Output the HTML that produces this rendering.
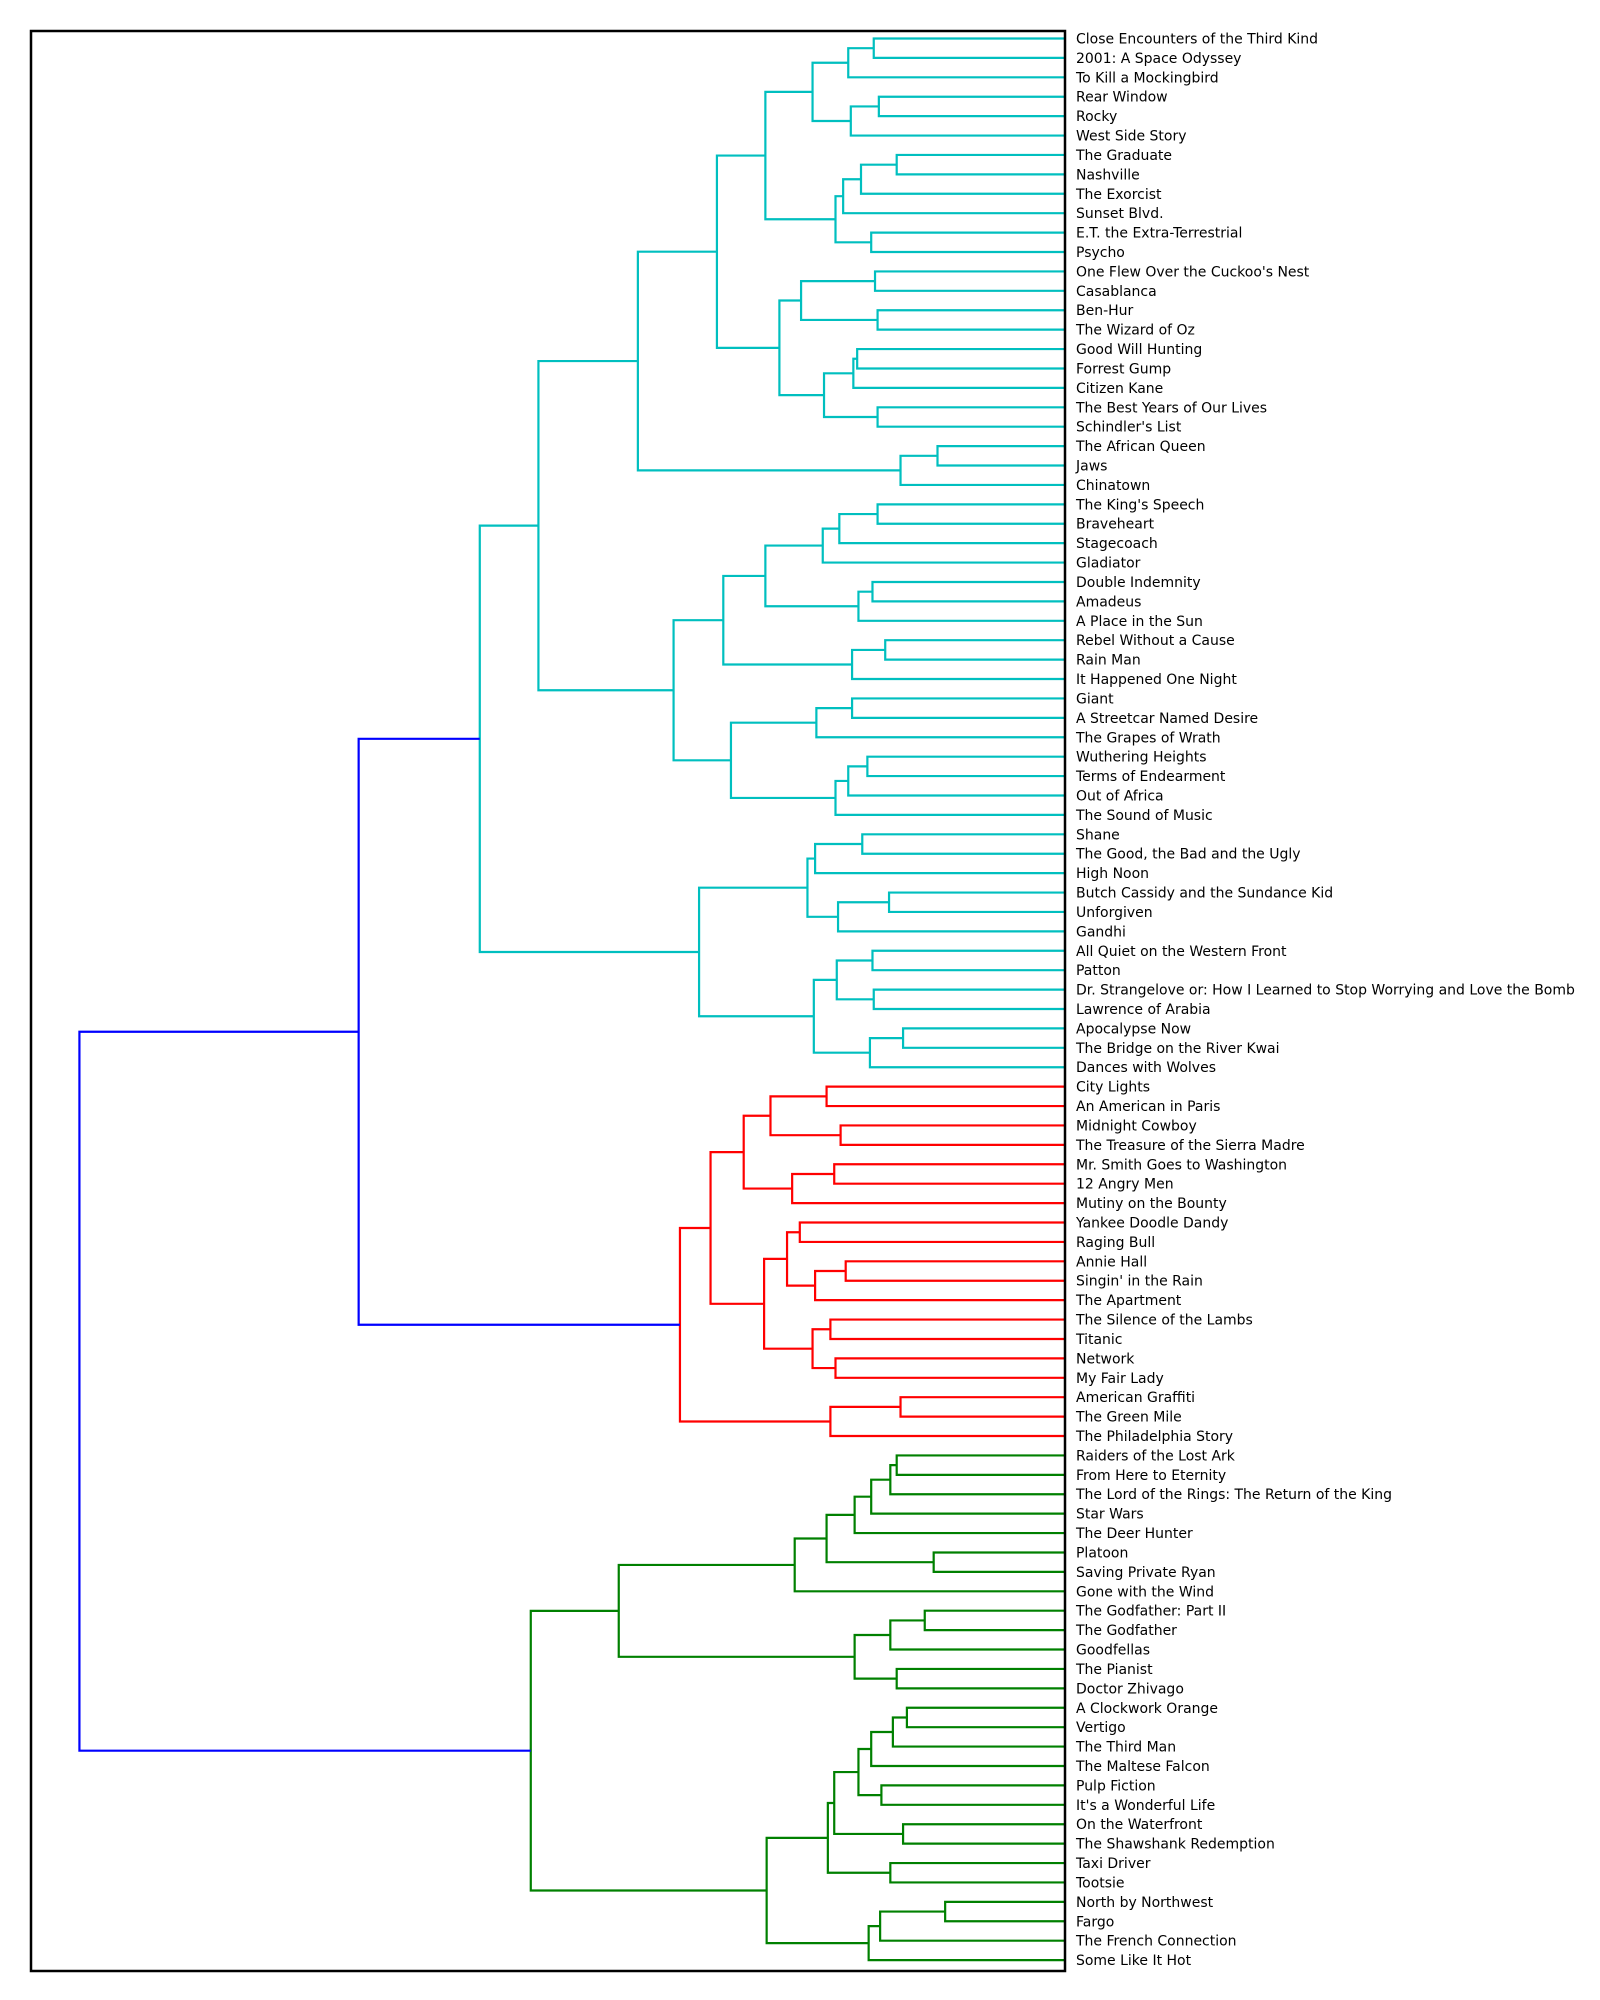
<!DOCTYPE html>
<html><head><meta charset="utf-8"><style>
html,body{margin:0;padding:0;background:#fff;}
svg{display:block;}
text{font-family:"DejaVu Sans","Liberation Sans",sans-serif;font-size:14px;fill:#000;}
</style></head><body>
<svg id="chartSvg" width="1600" height="2000" viewBox="0 0 1600 2000">
<rect x="0" y="0" width="1600" height="2000" fill="#fff"/>
<g id="linkGroup"></g>
<g id="labelGroup" transform="translate(1076,43.5) scale(1,0.99743)">
<text y="0">Close Encounters of the Third Kind</text>
<text y="19.46">2001: A Space Odyssey</text>
<text y="38.92">To Kill a Mockingbird</text>
<text y="58.38">Rear Window</text>
<text y="77.84">Rocky</text>
<text y="97.3">West Side Story</text>
<text y="116.76">The Graduate</text>
<text y="136.22">Nashville</text>
<text y="155.68">The Exorcist</text>
<text y="175.14">Sunset Blvd.</text>
<text y="194.6">E.T. the Extra-Terrestrial</text>
<text y="214.06">Psycho</text>
<text y="233.52">One Flew Over the Cuckoo's Nest</text>
<text y="252.98">Casablanca</text>
<text y="272.44">Ben-Hur</text>
<text y="291.9">The Wizard of Oz</text>
<text y="311.36">Good Will Hunting</text>
<text y="330.82">Forrest Gump</text>
<text y="350.28">Citizen Kane</text>
<text y="369.74">The Best Years of Our Lives</text>
<text y="389.2">Schindler's List</text>
<text y="408.66">The African Queen</text>
<text y="428.12">Jaws</text>
<text y="447.58">Chinatown</text>
<text y="467.04">The King's Speech</text>
<text y="486.5">Braveheart</text>
<text y="505.96">Stagecoach</text>
<text y="525.42">Gladiator</text>
<text y="544.88">Double Indemnity</text>
<text y="564.34">Amadeus</text>
<text y="583.8">A Place in the Sun</text>
<text y="603.26">Rebel Without a Cause</text>
<text y="622.72">Rain Man</text>
<text y="642.18">It Happened One Night</text>
<text y="661.64">Giant</text>
<text y="681.1">A Streetcar Named Desire</text>
<text y="700.56">The Grapes of Wrath</text>
<text y="720.02">Wuthering Heights</text>
<text y="739.48">Terms of Endearment</text>
<text y="758.94">Out of Africa</text>
<text y="778.4">The Sound of Music</text>
<text y="797.86">Shane</text>
<text y="817.32">The Good, the Bad and the Ugly</text>
<text y="836.78">High Noon</text>
<text y="856.24">Butch Cassidy and the Sundance Kid</text>
<text y="875.7">Unforgiven</text>
<text y="895.16">Gandhi</text>
<text y="914.62">All Quiet on the Western Front</text>
<text y="934.08">Patton</text>
<text y="953.54">Dr. Strangelove or: How I Learned to Stop Worrying and Love the Bomb</text>
<text y="973">Lawrence of Arabia</text>
<text y="992.46">Apocalypse Now</text>
<text y="1011.92">The Bridge on the River Kwai</text>
<text y="1031.38">Dances with Wolves</text>
<text y="1050.84">City Lights</text>
<text y="1070.3">An American in Paris</text>
<text y="1089.76">Midnight Cowboy</text>
<text y="1109.22">The Treasure of the Sierra Madre</text>
<text y="1128.68">Mr. Smith Goes to Washington</text>
<text y="1148.14">12 Angry Men</text>
<text y="1167.6">Mutiny on the Bounty</text>
<text y="1187.06">Yankee Doodle Dandy</text>
<text y="1206.52">Raging Bull</text>
<text y="1225.98">Annie Hall</text>
<text y="1245.44">Singin' in the Rain</text>
<text y="1264.9">The Apartment</text>
<text y="1284.36">The Silence of the Lambs</text>
<text y="1303.82">Titanic</text>
<text y="1323.28">Network</text>
<text y="1342.74">My Fair Lady</text>
<text y="1362.2">American Graffiti</text>
<text y="1381.66">The Green Mile</text>
<text y="1401.12">The Philadelphia Story</text>
<text y="1420.58">Raiders of the Lost Ark</text>
<text y="1440.04">From Here to Eternity</text>
<text y="1459.5">The Lord of the Rings: The Return of the King</text>
<text y="1478.96">Star Wars</text>
<text y="1498.42">The Deer Hunter</text>
<text y="1517.88">Platoon</text>
<text y="1537.34">Saving Private Ryan</text>
<text y="1556.8">Gone with the Wind</text>
<text y="1576.26">The Godfather: Part II</text>
<text y="1595.72">The Godfather</text>
<text y="1615.18">Goodfellas</text>
<text y="1634.64">The Pianist</text>
<text y="1654.1">Doctor Zhivago</text>
<text y="1673.56">A Clockwork Orange</text>
<text y="1693.02">Vertigo</text>
<text y="1712.48">The Third Man</text>
<text y="1731.94">The Maltese Falcon</text>
<text y="1751.4">Pulp Fiction</text>
<text y="1770.86">It's a Wonderful Life</text>
<text y="1790.32">On the Waterfront</text>
<text y="1809.78">The Shawshank Redemption</text>
<text y="1829.24">Taxi Driver</text>
<text y="1848.7">Tootsie</text>
<text y="1868.16">North by Northwest</text>
<text y="1887.62">Fargo</text>
<text y="1907.08">The French Connection</text>
<text y="1926.54">Some Like It Hot</text>
</g>
<rect x="31" y="31" width="1034" height="1940" fill="none" stroke="#000" stroke-width="2.5"/>
</svg>
<script>
// scipy-style linkage: merge k creates cluster id 100+k; ids < 100 are leaves (top to bottom)
var mergeLeft  = [0,100,3,102,101,6,105,106,10,107, 104,12,14,111,16,114,19,115,113,110, 21,120,119,24,123,124,28,126,125,31, 129,128,34,132,37,134,135,133,131,122, 41,140,44,142,141,47,49,145,51,148, 147,144,139,54,56,153,58,156,155,61, 63,160,159,66,68,163,162,158,70,168, 167,152,73,172,173,174,78,175,177,81, 179,84,180,178,86,184,185,90,186,92, 188,94,190,96,193,194,192,183,171];
var mergeRight = [1,2,4,5,103,7,8,9,11,108, 109,13,15,112,17,18,20,116,117,118, 22,23,121,25,26,27,29,30,127,32, 33,130,35,36,38,39,40,136,137,138, 42,43,45,46,143,48,50,146,52,53, 149,150,151,55,57,154,59,60,157,62, 64,65,161,67,69,164,165,166,71,72, 169,170,74,75,76,77,79,176,80,82, 83,85,181,182,87,88,89,91,187,93, 189,95,191,97,98,99,195,196,197];
var mergeDist  = [150,170,146,168,198,132,160,174,152,180, 235,149,147,207,163,166,147,189,224,273, 100,129,335,147,177,190,151,162,235,141, 167,268,167,195,155,170,180,262,307,413, 159,196,138,178,202,151,150,179,127,153, 197,287,459,187,176,231,181,214,252,208, 172,196,218,184,180,198,236,278,129,184, 302,554,132,137,152,165,103,187,212,110, 137,132,165,350,124,135,152,144,162,127, 181,137,186,94,145,154,234,419,773];
var groupBounds = [53, 72];

(function(){
var svgRoot = document.getElementById('chartSvg');
var SVGNS = svgRoot.namespaceURI;
var N = 100;
var X0 = 1065, XK = 1.275;
function xs(d){ return X0 - d*XK; }
function ys(i){ return 38.5 + 19.41*i; }
function groupOf(i){ return i <= groupBounds[0] ? 0 : (i <= groupBounds[1] ? 1 : 2); }
var colors = ['#00BFBF', '#FF0000', '#008000'];
var nodeY = [], nodeD = [], nodeG = [];
for (var i = 0; i < N; i++){ nodeY[i] = ys(i); nodeD[i] = 0; nodeG[i] = groupOf(i); }
var linkG = document.getElementById('linkGroup');
var nm = Math.min(mergeLeft.length, mergeRight.length, mergeDist.length);
for (var k = 0; k < nm; k++){
  var a = mergeLeft[k], b = mergeRight[k], d = mergeDist[k];
  var id = N + k;
  var g = (nodeG[a] === nodeG[b]) ? nodeG[a] : -1;
  var color = g < 0 ? '#0000FF' : colors[g];
  var p = document.createElementNS(SVGNS, 'path');
  p.setAttribute('d', 'M' + xs(nodeD[a]) + ',' + nodeY[a] + 'H' + xs(d) + 'V' + nodeY[b] + 'H' + xs(nodeD[b]));
  p.setAttribute('fill', 'none');
  p.setAttribute('stroke', color);
  p.setAttribute('stroke-width', '2.2');
  
  
  linkG.appendChild(p);
  nodeY[id] = (nodeY[a] + nodeY[b]) / 2;
  nodeD[id] = d;
  nodeG[id] = g;
}
})();
</script>
</body></html>
